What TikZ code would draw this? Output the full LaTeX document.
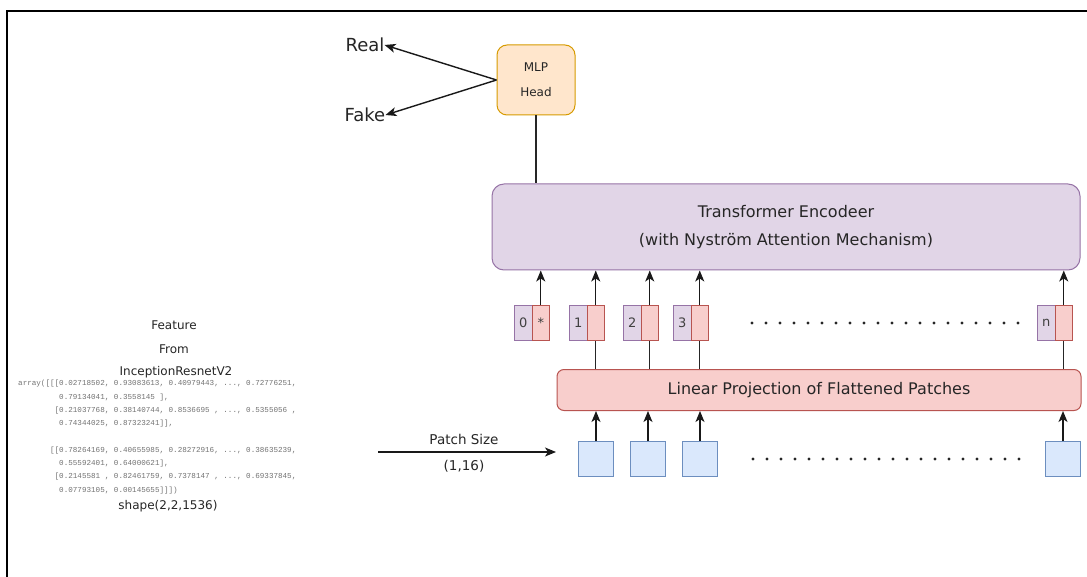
\documentclass[tikz,border=0pt]{standalone}
\usepackage{fontspec}
\setmainfont{DejaVu Sans}
\newfontfamily\arrfont{Liberation Mono}
\usetikzlibrary{arrows.meta}
\definecolor{orfill}{HTML}{FFE6CC}\definecolor{ordraw}{HTML}{D79B00}
\definecolor{pufill}{HTML}{E1D5E7}\definecolor{pudraw}{HTML}{9673A6}
\definecolor{pkfill}{HTML}{F8CECC}\definecolor{pkdraw}{HTML}{B85450}
\definecolor{blfill}{HTML}{DAE8FC}\definecolor{bldraw}{HTML}{6C8EBF}
\tikzset{
  box/.style={draw, rounded corners=10pt, line width=1pt, inner sep=0pt, text=black!85},
  purp/.style={draw=pudraw, fill=pufill, line width=1pt, minimum width=17.5pt, minimum height=35pt, inner sep=0pt, text=black!75, font=\fontsize{13}{13}\selectfont},
  pink/.style={draw=pkdraw, fill=pkfill, line width=1pt, minimum width=17.5pt, minimum height=35pt, inner sep=0pt, text=black!75, font=\fontsize{13}{13}\selectfont},
  patch/.style={draw=bldraw, fill=blfill, line width=1pt, minimum width=35pt, minimum height=35pt, inner sep=0pt},
  arr/.style={-{Stealth[length=11pt,width=9pt,inset=3pt]}, line width=1.4pt, draw=black!90},
  conn/.style={line width=1.4pt, draw=black!85},
  dotrow/.style={line width=3.3pt, line cap=round, dash pattern=on 0pt off 14pt, draw=black!85},
  lbl/.style={inner sep=0pt, text=black!85}
}
\begin{document}
\begin{tikzpicture}[x=1pt,y=-1pt]
\useasboundingbox (0,0) rectangle (1087,577);
\fill[white] (0,0) rectangle (1087,577);
\draw[line width=1.6pt] (7,577) -- (7,11) -- (1087,11);

% MLP head
\node[box, draw=ordraw, fill=orfill, minimum width=78pt, minimum height=70pt, align=center, font=\fontsize{12}{25}\selectfont] (mlp) at (536,80) {MLP\\Head};
\node[lbl, font=\fontsize{18}{18}\selectfont, anchor=center] (real) at (365,45) {Real};
\node[lbl, font=\fontsize{18}{18}\selectfont, anchor=center] (fake) at (365,115) {Fake};
\draw[arr] (mlp.west) -- (real.east);
\draw[arr] (mlp.west) -- (fake.east);

% Transformer
\node[box, rounded corners=12pt, draw=pudraw, fill=pufill, minimum width=588pt, minimum height=86pt, align=center, font=\fontsize{16}{28}\selectfont] (tr) at (786,227) {Transformer Encodeer\\(with Nystr\"om Attention Mechanism)};
\draw[conn] (mlp.south) -- (mlp.south |- tr.north);

% Linear projection
\node[box, rounded corners=7pt, draw=pkdraw, fill=pkfill, minimum width=524pt, minimum height=41pt, font=\fontsize{16}{12}\selectfont] (lin) at (819,390) {Linear Projection of Flattened Patches};

% tokens
\foreach \nm/\x/\lab/\st in {0/514/0/*, 1/569/1/, 2/623/2/, 3/673/3/, n/1037/n/} {
  \node[purp, anchor=north west] (p\nm) at (\x,305) {\lab};
  \node[pink, anchor=north west] (k\nm) at (\x+17.5,305) {\st};
  \draw[arr] (k\nm.north) -- (k\nm.north |- tr.south);
}
\foreach \nm in {1,2,3,n} {
  \draw[conn] (k\nm.south) -- (k\nm.south |- lin.north);
}
\draw[dotrow] (752,323) -- (1030,323);

% patches
\foreach \nm/\x in {a/596, b/648, c/700, d/1063} {
  \node[patch] (q\nm) at (\x,459) {};
  \draw[arr] (q\nm.north) -- (q\nm.north |- lin.south);
}
\draw[dotrow] (753,459) -- (1020,459);

% left side
\node[lbl, font=\fontsize{12}{12}\selectfont] (f1) at (174,325) {Feature};
\node[lbl, font=\fontsize{12}{12}\selectfont] (f2) at (174,349) {From};
\node[lbl, font=\fontsize{12}{12}\selectfont] (f3) at (176,372) {InceptionResnetV2};
\node[lbl, anchor=north west, text=black!55, font=\arrfont\fontsize{7.6}{13.3}\selectfont, align=left] (arr) at (18,380) {%
array([[[0.02718502, 0.93083613, 0.40979443, ..., 0.72776251,\\
\hphantom{array([[[}0.79134041, 0.3558145 ],\\
\hphantom{array([[}[0.21037768, 0.38140744, 0.8536695 , ..., 0.5355056 ,\\
\hphantom{array([[[}0.74344025, 0.87323241]],\\[13.3pt]
\hphantom{array([}[[0.78264169, 0.40655985, 0.28272916, ..., 0.38635239,\\
\hphantom{array([[[}0.55592401, 0.64000621],\\
\hphantom{array([[}[0.2145581 , 0.82461759, 0.7378147 , ..., 0.69337845,\\
\hphantom{array([[[}0.07793105, 0.00145655]]])};
\node[lbl, font=\fontsize{12}{12}\selectfont] (shp) at (168,506) {shape(2,2,1536)};

% patch size arrow
\coordinate (ps) at (378,452);
\coordinate (pe) at (556,452);
\draw[arr] (ps) -- (pe);
\node[lbl, font=\fontsize{13.5}{12}\selectfont] (pl1) at (464,439) {Patch Size};
\node[lbl, font=\fontsize{13.5}{12}\selectfont] (pl2) at (464,466) {(1,16)};
\end{tikzpicture}
\end{document}
